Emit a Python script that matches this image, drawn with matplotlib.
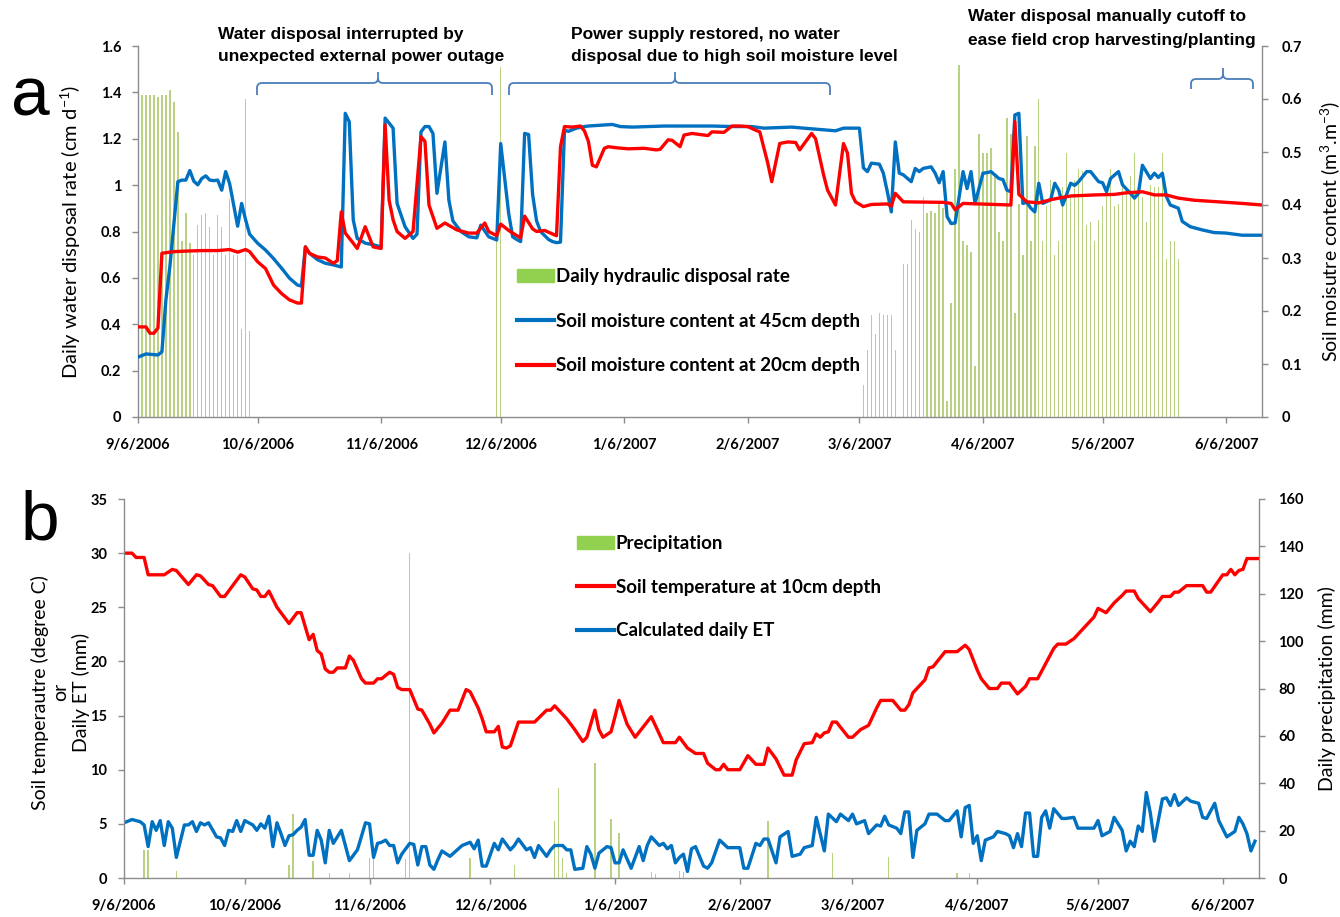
import numpy as np
import matplotlib
matplotlib.use("Agg")
import matplotlib.pyplot as plt
from matplotlib.lines import Line2D
from matplotlib.patches import Patch, PathPatch
from matplotlib.path import Path
from matplotlib.font_manager import FontProperties

START = np.datetime64("2006-09-06")
N_DAYS = 282

tick_dates = ["2006-09-06", "2006-10-06", "2006-11-06", "2006-12-06", "2007-01-06",
              "2007-02-06", "2007-03-06", "2007-04-06", "2007-05-06", "2007-06-06"]
tick_labels = ["9/6/2006", "10/6/2006", "11/6/2006", "12/6/2006", "1/6/2007",
               "2/6/2007", "3/6/2007", "4/6/2007", "5/6/2007", "6/6/2007"]

# ---- panel a: daily hydraulic disposal (cm/d), days after 9/6/2006 ----
disposal_day = [0, 1, 2, 3, 4, 5, 6, 7, 8, 9,
                10, 11, 12, 13, 14, 15, 16, 17, 18, 19,
                20, 21, 22, 23, 24, 25, 26, 27, 28, 90,
                91, 182, 183, 184, 185, 186, 187, 188, 189, 190,
                192, 193, 194, 195, 196, 197, 198, 199, 200, 201,
                202, 203, 204, 205, 206, 207, 208, 209, 210, 211,
                212, 213, 214, 215, 216, 217, 218, 219, 220, 221,
                222, 223, 224, 225, 226, 227, 228, 229, 230, 231,
                232, 233, 234, 235, 236, 237, 238, 239, 240, 241,
                242, 243, 244, 245, 246, 247, 248, 249, 250, 251,
                252, 253, 254, 255, 256, 257, 258, 259, 260, 261]
disposal_rate = [0.56, 1.39, 1.39, 1.39, 1.39, 1.38, 1.39, 1.39, 1.41, 1.36,
                 1.23, 0.76, 0.88, 0.75, 0.70, 0.83, 0.87, 0.88, 0.82, 0.70,
                 0.87, 0.82, 0.70, 0.94, 0.70, 0.70, 0.38, 1.37, 0.37, 0.80,
                 1.51, 0.14, 0.29, 0.44, 0.36, 0.45, 0.44, 0.44, 0.44, 0.29,
                 0.66, 0.66, 0.85, 0.81, 0.80, 0.95, 0.88, 0.89, 0.88, 0.93,
                 0.90, 0.07, 0.49, 1.07, 1.52, 0.76, 0.74, 0.71, 0.22, 1.22,
                 1.14, 1.14, 1.16, 1.05, 0.80, 0.76, 1.29, 1.22, 0.45, 0.92,
                 0.70, 1.21, 0.76, 1.17, 1.37, 0.76, 0.91, 1.02, 0.70, 0.76,
                 0.99, 1.14, 0.95, 1.02, 1.07, 1.06, 0.83, 0.84, 0.76, 0.85,
                 0.91, 0.97, 1.07, 0.91, 0.92, 0.99, 0.98, 1.04, 1.14, 0.98,
                 0.95, 0.84, 1.00, 0.99, 0.99, 1.14, 0.68, 0.76, 0.76, 0.68]

# soil moisture at 45 cm (m3/m3)
m45_day = [0, 2, 5, 6, 7, 8, 10, 11, 12, 13,
           14, 15, 16, 17, 18, 19, 20, 21, 22, 23,
           24, 25, 26, 27, 28, 30, 32, 34, 36, 38,
           40, 41, 42, 43, 45, 47, 49, 51, 52, 53,
           54, 55, 57, 59, 61, 62, 64, 65, 67, 69,
           70, 71, 72, 73, 74, 75, 77, 78, 79, 81,
           83, 85, 86, 88, 90, 91, 93, 94, 95, 96,
           97, 98, 99, 100, 101, 103, 104, 105, 106, 107,
           108, 110, 112, 113, 119, 121, 124, 132, 144, 149,
           154, 157, 164, 167, 175, 177, 181, 182, 183, 184,
           186, 187, 188, 189, 190, 191, 192, 194, 195, 196,
           197, 199, 200, 201, 202, 203, 204, 205, 207, 208,
           209, 210, 212, 213, 214, 216, 217, 218, 219, 220,
           221, 222, 223, 224, 225, 226, 227, 229, 230, 231,
           232, 234, 235, 236, 238, 239, 241, 242, 243, 244,
           246, 247, 249, 250, 251, 252, 254, 255, 256, 257,
           258, 259, 261, 262, 264, 267, 270, 273, 277, 282]
m45 = [0.113, 0.119, 0.117, 0.123, 0.221, 0.284, 0.444, 0.447, 0.447, 0.465,
       0.445, 0.438, 0.450, 0.455, 0.447, 0.446, 0.447, 0.428, 0.463, 0.440,
       0.400, 0.360, 0.403, 0.372, 0.345, 0.328, 0.315, 0.299, 0.281, 0.262,
       0.249, 0.247, 0.321, 0.309, 0.297, 0.290, 0.287, 0.283, 0.573, 0.557,
       0.372, 0.337, 0.328, 0.325, 0.321, 0.564, 0.545, 0.403, 0.359, 0.337,
       0.345, 0.538, 0.548, 0.548, 0.535, 0.422, 0.519, 0.409, 0.370, 0.350,
       0.340, 0.338, 0.362, 0.340, 0.334, 0.516, 0.384, 0.340, 0.335, 0.331,
       0.535, 0.533, 0.420, 0.370, 0.350, 0.335, 0.331, 0.329, 0.330, 0.541,
       0.539, 0.545, 0.548, 0.549, 0.552, 0.548, 0.547, 0.549, 0.549, 0.548,
       0.548, 0.545, 0.547, 0.545, 0.540, 0.545, 0.545, 0.470, 0.463, 0.479,
       0.477, 0.460, 0.425, 0.387, 0.519, 0.460, 0.457, 0.444, 0.469, 0.463,
       0.469, 0.472, 0.460, 0.442, 0.463, 0.378, 0.365, 0.366, 0.463, 0.431,
       0.463, 0.403, 0.460, 0.461, 0.463, 0.450, 0.448, 0.428, 0.425, 0.570,
       0.573, 0.403, 0.405, 0.394, 0.387, 0.441, 0.403, 0.410, 0.441, 0.428,
       0.400, 0.441, 0.437, 0.444, 0.463, 0.463, 0.444, 0.442, 0.425, 0.450,
       0.463, 0.438, 0.422, 0.413, 0.422, 0.475, 0.450, 0.460, 0.452, 0.460,
       0.416, 0.400, 0.394, 0.369, 0.359, 0.353, 0.348, 0.347, 0.343, 0.343]

# soil moisture at 20 cm (m3/m3)
m20_day = [0, 2, 3, 4, 5, 6, 9, 12, 16, 20,
           23, 25, 27, 28, 30, 32, 34, 36, 38, 40,
           41, 42, 43, 45, 47, 49, 50, 51, 52, 54,
           55, 57, 58, 59, 61, 62, 63, 64, 65, 67,
           69, 71, 72, 73, 74, 75, 77, 80, 83, 85,
           87, 88, 90, 91, 93, 94, 96, 97, 99, 100,
           102, 105, 106, 107, 109, 111, 112, 113, 114, 115,
           117, 118, 120, 123, 127, 130, 131, 133, 134, 136,
           137, 139, 141, 143, 144, 147, 149, 151, 153, 155,
           156, 158, 159, 161, 163, 165, 166, 169, 170, 172,
           173, 175, 177, 178, 179, 180, 182, 184, 188, 189,
           190, 192, 202, 204, 205, 207, 219, 220, 221, 223,
           226, 229, 231, 234, 240, 245, 248, 252, 255, 258,
           261, 265, 269, 273, 277, 282]
m20 = [0.170, 0.170, 0.158, 0.158, 0.168, 0.309, 0.312, 0.313, 0.314, 0.314,
       0.316, 0.311, 0.316, 0.312, 0.293, 0.280, 0.249, 0.233, 0.221, 0.215,
       0.215, 0.321, 0.309, 0.302, 0.300, 0.290, 0.295, 0.387, 0.347, 0.328,
       0.318, 0.359, 0.340, 0.321, 0.318, 0.551, 0.409, 0.372, 0.350, 0.337,
       0.350, 0.529, 0.520, 0.400, 0.378, 0.356, 0.366, 0.353, 0.347, 0.347,
       0.366, 0.350, 0.342, 0.364, 0.352, 0.347, 0.338, 0.379, 0.355, 0.350,
       0.352, 0.342, 0.510, 0.548, 0.547, 0.549, 0.540, 0.520, 0.475, 0.472,
       0.507, 0.510, 0.508, 0.506, 0.507, 0.504, 0.505, 0.523, 0.522, 0.510,
       0.532, 0.535, 0.533, 0.531, 0.538, 0.537, 0.549, 0.549, 0.548, 0.541,
       0.538, 0.479, 0.444, 0.516, 0.519, 0.518, 0.504, 0.535, 0.525, 0.457,
       0.428, 0.400, 0.516, 0.498, 0.422, 0.406, 0.397, 0.401, 0.402, 0.398,
       0.422, 0.406, 0.405, 0.403, 0.391, 0.403, 0.400, 0.557, 0.420, 0.406,
       0.404, 0.410, 0.413, 0.417, 0.419, 0.420, 0.423, 0.425, 0.419, 0.419,
       0.413, 0.409, 0.407, 0.405, 0.403, 0.400]

# ---- panel b ----
precip_day = [5, 6, 13, 41, 42, 47, 51, 56, 61, 62,
              70, 71, 86, 97, 107, 108, 109, 110, 117, 121,
              123, 131, 132, 138, 139, 160, 176, 190, 207, 210]
precip = [11.8, 12.0, 3.0, 5.5, 27.0, 7.0, 2.0, 2.0, 8.4, 8.4,
          8.0, 137.0, 8.3, 5.5, 24.0, 38.0, 8.3, 2.0, 48.7, 25.0,
          19.0, 2.5, 1.5, 3.0, 2.5, 24.0, 10.7, 9.0, 2.0, 2.0]

temp_day = [0, 2, 3, 5, 6, 10, 12, 13, 16, 18,
            19, 21, 22, 24, 25, 29, 30, 32, 33, 34,
            35, 36, 38, 41, 43, 44, 46, 47, 48, 49,
            50, 51, 52, 53, 55, 56, 57, 59, 60, 62,
            63, 64, 66, 67, 68, 69, 71, 73, 74, 76,
            77, 79, 81, 83, 85, 86, 88, 89, 90, 92,
            93, 94, 95, 96, 98, 102, 105, 106, 107, 110,
            112, 114, 115, 117, 118, 119, 121, 122, 123, 125,
            127, 131, 134, 137, 138, 140, 142, 144, 145, 147,
            148, 149, 150, 153, 155, 157, 159, 160, 162, 164,
            166, 167, 169, 171, 172, 173, 174, 175, 176, 177,
            180, 181, 183, 185, 186, 187, 188, 191, 193, 194,
            195, 196, 199, 200, 201, 204, 207, 209, 210, 212,
            213, 215, 217, 218, 220, 222, 224, 225, 227, 228,
            229, 231, 232, 234, 236, 237, 240, 241, 242, 244,
            246, 248, 249, 251, 252, 255, 257, 258, 260, 261,
            262, 264, 268, 269, 270, 273, 274, 275, 276, 277,
            278, 279, 282]
temp = [30.0, 30.0, 29.6, 29.6, 28.0, 28.0, 28.5, 28.4, 27.1, 28.0,
        27.9, 27.1, 27.0, 26.0, 26.0, 28.0, 27.8, 26.7, 26.6, 26.0,
        26.0, 26.5, 25.0, 23.5, 24.5, 24.5, 22.0, 22.5, 21.0, 20.7,
        19.3, 19.0, 19.0, 19.4, 19.4, 20.5, 20.1, 18.4, 18.0, 18.0,
        18.4, 18.4, 19.0, 18.8, 17.6, 17.4, 17.4, 15.6, 15.5, 14.2,
        13.4, 14.3, 15.5, 15.5, 17.4, 17.2, 15.7, 14.7, 13.5, 13.5,
        14.0, 12.1, 12.0, 12.2, 14.4, 14.4, 15.5, 15.5, 15.9, 14.7,
        13.7, 12.6, 13.0, 15.5, 13.7, 13.0, 13.5, 14.9, 16.4, 14.2,
        13.0, 14.9, 12.5, 12.5, 13.0, 12.0, 11.5, 11.5, 10.6, 10.0,
        10.0, 10.5, 10.0, 10.0, 11.3, 10.5, 10.5, 12.0, 11.0, 9.5,
        9.5, 10.9, 12.4, 12.5, 13.3, 13.0, 13.4, 13.5, 14.4, 14.4,
        13.0, 13.0, 13.7, 14.1, 14.9, 15.7, 16.4, 16.4, 15.5, 15.5,
        16.0, 17.1, 18.3, 19.4, 19.5, 20.9, 20.9, 21.5, 21.1, 19.2,
        18.4, 17.5, 17.5, 18.0, 18.0, 17.0, 17.7, 18.4, 18.4, 19.1,
        19.8, 21.2, 21.6, 21.6, 22.1, 22.5, 23.7, 24.1, 24.9, 24.5,
        25.4, 26.1, 26.5, 26.5, 25.8, 24.6, 25.5, 26.0, 26.0, 26.4,
        26.4, 27.0, 27.0, 26.4, 26.4, 28.0, 28.0, 28.5, 28.0, 28.4,
        28.5, 29.5, 29.5]

et_day = [0, 2, 4, 5, 6, 7, 8, 9, 10, 11,
          12, 13, 15, 16, 17, 18, 19, 20, 21, 23,
          24, 25, 26, 27, 28, 29, 30, 32, 33, 34,
          35, 36, 37, 38, 39, 40, 41, 42, 43, 44,
          45, 46, 47, 48, 49, 50, 51, 52, 54, 56,
          58, 60, 61, 62, 63, 64, 65, 66, 67, 68,
          69, 71, 72, 73, 74, 75, 76, 77, 78, 79,
          81, 84, 86, 87, 88, 89, 90, 92, 93, 94,
          96, 97, 98, 100, 101, 102, 103, 105, 106, 107,
          109, 110, 111, 112, 114, 115, 116, 117, 118, 120,
          121, 122, 123, 124, 126, 128, 129, 130, 131, 133,
          134, 135, 136, 137, 138, 139, 140, 141, 142, 144,
          145, 146, 148, 150, 152, 153, 154, 155, 157, 158,
          159, 160, 162, 163, 165, 166, 168, 169, 171, 172,
          174, 175, 177, 178, 180, 181, 182, 184, 185, 187,
          188, 189, 190, 192, 193, 194, 195, 196, 197, 199,
          200, 202, 204, 205, 207, 208, 209, 210, 211, 212,
          213, 214, 216, 217, 219, 220, 221, 222, 223, 224,
          225, 226, 227, 228, 229, 230, 231, 233, 234, 236,
          237, 239, 241, 242, 243, 245, 246, 248, 249, 250,
          251, 252, 253, 254, 255, 256, 258, 259, 260, 261,
          262, 264, 265, 267, 268, 269, 270, 271, 272, 274,
          276, 277, 278, 279, 280, 281]
et = [5.1, 5.4, 5.2, 4.9, 2.9, 5.2, 4.4, 5.3, 3.0, 5.2,
      4.6, 1.9, 4.9, 4.9, 5.2, 4.3, 5.1, 4.9, 5.1, 3.8,
      3.7, 3.0, 4.4, 4.3, 5.3, 4.3, 5.3, 4.9, 4.4, 5.0,
      4.6, 5.7, 2.9, 5.1, 4.1, 3.0, 3.9, 4.0, 4.4, 4.7,
      5.4, 2.1, 2.1, 4.4, 3.5, 1.4, 4.4, 3.2, 4.4, 1.6,
      2.6, 5.1, 5.0, 1.9, 3.2, 3.3, 3.5, 3.0, 3.0, 1.4,
      2.2, 3.2, 3.1, 1.2, 2.9, 2.9, 1.2, 0.8, 1.7, 2.5,
      2.0, 3.0, 3.3, 2.7, 3.5, 1.1, 1.1, 3.2, 2.6, 3.6,
      2.6, 3.0, 3.6, 2.6, 2.8, 1.9, 3.0, 2.0, 2.6, 3.0,
      3.0, 2.6, 2.6, 0.8, 0.9, 2.9, 2.2, 0.9, 2.3, 2.9,
      2.8, 1.4, 1.4, 2.6, 0.9, 2.9, 1.6, 3.0, 3.8, 3.0,
      3.2, 2.7, 3.0, 1.4, 1.9, 2.2, 0.6, 2.7, 2.9, 1.1,
      0.9, 1.4, 3.5, 2.8, 2.8, 2.8, 0.9, 0.9, 3.2, 3.0,
      3.6, 3.6, 1.4, 3.8, 4.3, 2.0, 2.2, 2.8, 3.0, 5.6,
      2.5, 5.9, 5.2, 5.9, 5.3, 5.9, 5.0, 5.3, 4.1, 4.9,
      4.8, 5.7, 4.9, 4.6, 4.1, 6.1, 6.1, 1.9, 4.4, 5.0,
      5.9, 5.9, 5.3, 5.3, 6.2, 3.8, 6.5, 6.7, 3.2, 3.9,
      1.6, 3.5, 3.8, 4.3, 4.1, 3.9, 2.8, 4.1, 2.9, 6.0,
      6.0, 2.0, 2.0, 5.6, 6.2, 4.6, 6.4, 5.5, 5.5, 5.6,
      4.6, 4.6, 4.6, 5.3, 3.9, 4.3, 5.6, 4.4, 2.5, 3.4,
      2.9, 4.8, 4.3, 7.9, 6.0, 3.4, 7.3, 7.4, 6.7, 7.7,
      6.7, 7.4, 7.1, 6.9, 5.6, 5.5, 6.2, 6.9, 5.3, 3.8,
      4.3, 5.6, 5.0, 4.1, 2.5, 3.4]

BLUE = "#0070C0"
RED = "#FF0000"
BAR_GREEN = "#b9d183"
LEG_GREEN = "#92D050"
SPINE = "#8c8c8c"
BRACE = "#4a7ebb"

W, H = 1340, 917


def dates(days):
    return START + np.asarray(days).astype("timedelta64[D]")


def fx(px):
    return px / W


def fy(py):
    return 1 - py / H


def style_axes(ax, twin):
    for a in (ax, twin):
        a.spines["top"].set_visible(False)
        for s in ("left", "right", "bottom"):
            a.spines[s].set_color(SPINE)
            a.spines[s].set_linewidth(1.0)
        a.tick_params(colors=SPINE, length=4, width=1.0, direction="out")
    ax.spines["right"].set_visible(False)
    twin.spines["left"].set_visible(False)
    twin.spines["bottom"].set_visible(False)
    ax.set_xlim(START, START + np.timedelta64(N_DAYS, "D"))
    ax.set_xticks(dates([(np.datetime64(d) - START).astype(int) for d in tick_dates]))
    ax.set_xticklabels(tick_labels, fontweight="bold", fontsize=10.5, color="black")
    ax.tick_params(axis="x", pad=11)


def set_yticks(ax, ticks, fmt, pad):
    ax.set_yticks(ticks)
    ax.set_yticklabels([fmt(t) for t in ticks], fontweight="bold",
                       fontsize=10.5, color="black")
    ax.tick_params(axis="y", pad=pad)


def brace(fig, x0, x1, xc, y_line, y_end, y_tip):
    r = 5
    verts = [(x0, y_end), (x0, y_line + r), (x0, y_line), (x0 + r, y_line),
             (xc - r, y_line), (xc, y_line), (xc, y_line - r), (xc, y_tip),
             (xc, y_line - r), (xc, y_line), (xc + r, y_line),
             (x1 - r, y_line), (x1, y_line), (x1, y_line + r), (x1, y_end)]
    codes = [Path.MOVETO, Path.LINETO, Path.CURVE3, Path.CURVE3,
             Path.LINETO, Path.CURVE3, Path.CURVE3, Path.LINETO,
             Path.MOVETO, Path.CURVE3, Path.CURVE3,
             Path.LINETO, Path.CURVE3, Path.CURVE3, Path.LINETO]
    verts = [(fx(x), fy(y)) for x, y in verts]
    fig.add_artist(PathPatch(Path(verts, codes), transform=fig.transFigure,
                             fill=False, edgecolor=BRACE, linewidth=1.3))


plt.rcParams["font.family"] = ["Lato", "DejaVu Sans"]
plt.rcParams["mathtext.default"] = "regular"

fig = plt.figure(figsize=(W / 100, H / 100), dpi=100)

# ---------------- panel a ----------------
axa = fig.add_axes([fx(138), fy(417), (1262 - 138) / W, (417 - 46) / H])
axa2 = axa.twinx()
style_axes(axa, axa2)

axa.bar(dates(disposal_day), disposal_rate, width=0.35, color=BAR_GREEN,
        linewidth=0, align="center")
axa2.plot(dates(m45_day), m45, color=BLUE, lw=2.4, solid_joinstyle="round")
axa2.plot(dates(m20_day), m20, color=RED, lw=2.4, solid_joinstyle="round")

axa.set_ylim(0, 1.6)
axa2.set_ylim(0, 0.7)
set_yticks(axa, np.round(np.arange(0, 1.61, 0.2), 1), lambda v: f"{v:g}", 8)
set_yticks(axa2, np.round(np.arange(0, 0.71, 0.1), 1), lambda v: f"{v:g}", 10)

axa.set_ylabel("Daily water disposal rate (cm d$^{-1}$)", fontsize=14.5)
axa.yaxis.set_label_coords(-0.049, 0.5)
axa2.set_ylabel("Soil moisutre content (m$^{3}$.m$^{-3}$)", fontsize=14)
axa2.yaxis.set_label_coords(1.0498, 0.5)

leg_font = FontProperties(family="Lato", weight="bold", size=13.5)
fig.legend(handles=[Patch(color=LEG_GREEN),
                    Line2D([], [], color=BLUE, lw=3),
                    Line2D([], [], color=RED, lw=3)],
           labels=["Daily hydraulic disposal rate",
                   "Soil moisture content at 45cm depth",
                   "Soil moisture content at 20cm depth"],
           loc="upper left", bbox_to_anchor=(fx(517), fy(268)), frameon=False,
           prop=leg_font, handlelength=1.95, handletextpad=0.12,
           labelspacing=1.48, borderpad=0, borderaxespad=0)

# event annotations above panel a
note = dict(fontsize=12.5, fontweight="bold",
            family=["Liberation Sans", "DejaVu Sans"],
            ha="left", va="center", color="black")
fig.text(fx(218), fy(35), "Water disposal interrupted by", **note)
fig.text(fx(218), fy(57), "unexpected external power outage", **note)
fig.text(fx(571), fy(35), "Power supply restored, no water", **note)
fig.text(fx(571), fy(57), "disposal due to high soil moisture level", **note)
fig.text(fx(968), fy(17), "Water disposal manually cutoff to", **note)
fig.text(fx(968), fy(40), "ease field crop harvesting/planting", **note)
brace(fig, 257, 492, 378, 83, 95, 72)
brace(fig, 509, 830, 675, 83, 95, 72)
brace(fig, 1191, 1253, 1223, 79, 89, 68)

fig.text(fx(30), fy(97), "a", fontsize=50, family=["Liberation Sans", "DejaVu Sans"],
         ha="center", va="center")

# ---------------- panel b ----------------
axb = fig.add_axes([fx(124), fy(878), (1259 - 124) / W, (878 - 499) / H])
axb2 = axb.twinx()
style_axes(axb, axb2)
axb.set_zorder(axb2.get_zorder() + 1)
axb.patch.set_visible(False)

axb2.bar(dates(precip_day), precip, width=0.35, color=BAR_GREEN, linewidth=0)
axb.plot(dates(temp_day), temp, color=RED, lw=2.4, solid_joinstyle="round")
axb.plot(dates(et_day), et, color=BLUE, lw=2.4, solid_joinstyle="round")

axb.set_ylim(0, 35)
axb2.set_ylim(0, 160)
set_yticks(axb, np.arange(0, 36, 5), lambda v: f"{v:g}", 8)
set_yticks(axb2, np.arange(0, 161, 20), lambda v: f"{v:g}", 10)

axb.set_ylabel("Soil temperautre (degree C)\nor\nDaily ET (mm)", fontsize=14,
               linespacing=1.2, multialignment="center")
axb.yaxis.set_label_coords(-0.03, 0.49)
axb2.set_ylabel("Daily precipitation (mm)", fontsize=14)
axb2.yaxis.set_label_coords(1.052, 0.5)

fig.legend(handles=[Patch(color=LEG_GREEN),
                    Line2D([], [], color=RED, lw=3),
                    Line2D([], [], color=BLUE, lw=3)],
           labels=["Precipitation", "Soil temperature at 10cm depth",
                   "Calculated daily ET"],
           loc="upper left", bbox_to_anchor=(fx(577), fy(535)), frameon=False,
           prop=leg_font, handlelength=1.95, handletextpad=0.12,
           labelspacing=1.42, borderpad=0, borderaxespad=0)

fig.text(fx(40), fy(522), "b", fontsize=50, family=["Liberation Sans", "DejaVu Sans"],
         ha="center", va="center")

fig.savefig("out.png", dpi=100)
